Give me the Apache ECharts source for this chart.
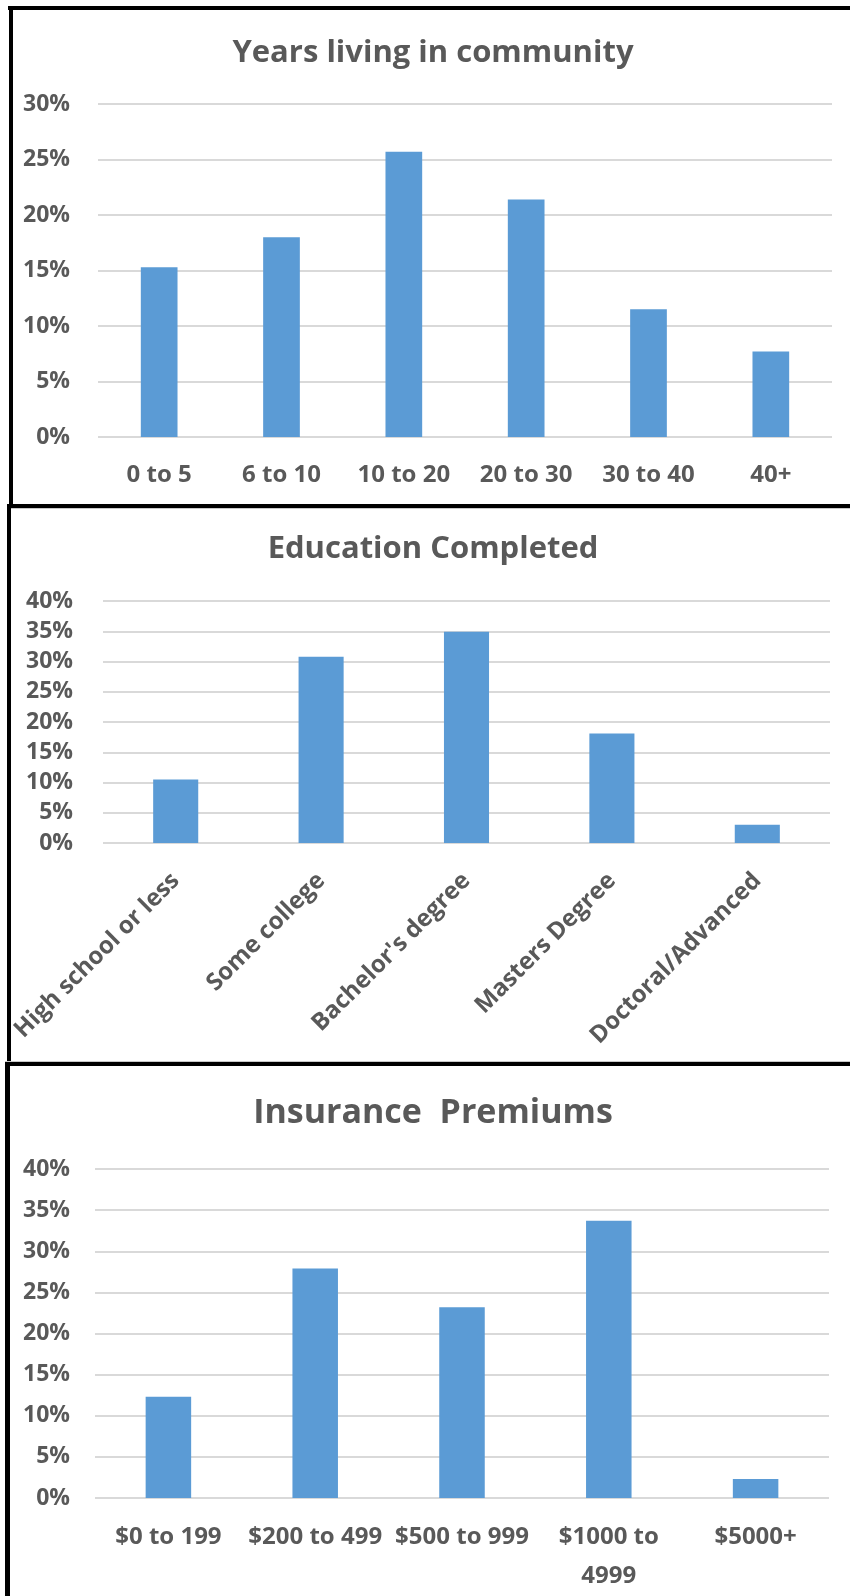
<!DOCTYPE html>
<html>
<head>
<meta charset="utf-8">
<script src="https://cdn.jsdelivr.net/npm/echarts@6/dist/echarts.min.js"></script>
<style>
  html, body { margin: 0; padding: 0; background: #ffffff; }
  #chart { width: 850px; height: 1596px; }
</style>
</head>
<body>
<div id="chart"></div>
<script>
// Survey results, shares of respondents in percent
const yearsCategories = ['0 to 5', '6 to 10', '10 to 20', '20 to 30', '30 to 40', '40+'];
const yearsValues = [15.3, 18.0, 25.7, 21.4, 11.5, 7.7];

const educationCategories = ['High school or less', 'Some college', "Bachelor's degree", 'Masters Degree', 'Doctoral/Advanced'];
const educationValues = [10.5, 30.8, 34.9, 18.1, 3.0];

const premiumCategories = ['$0 to 199', '$200 to 499', '$500 to 999', '$1000 to\n4999', '$5000+'];
const premiumValues = [12.3, 27.9, 23.2, 33.7, 2.3];

const panelTitles = ['Years living in community', 'Education Completed', 'Insurance  Premiums'];
const yearsAxisMax = 30;
const educationAxisMax = 40;
const premiumAxisMax = 40;
const tickStep = 5;

const FONT = '"Open Sans", "DejaVu Sans", sans-serif';
const GREY_TEXT = '#595959';
const GRID_LINE = '#d9d9d9';
const BAR_BLUE = '#5b9bd5';

function valueAxis(gridIndex, max, margin) {
  return {
    type: 'value', gridIndex: gridIndex, min: 0, max: max, interval: tickStep,
    axisLine: { show: false }, axisTick: { show: false },
    splitLine: { show: true, lineStyle: { color: GRID_LINE, width: 2 } },
    axisLabel: {
      formatter: '{value}%', color: GREY_TEXT, fontFamily: FONT,
      fontWeight: 'bold', fontSize: 23, margin: margin
    }
  };
}

function categoryAxis(gridIndex, data, labelOpts) {
  return {
    type: 'category', gridIndex: gridIndex, data: data,
    axisLine: { show: false }, axisTick: { show: false },
    axisLabel: Object.assign({
      color: GREY_TEXT, fontFamily: FONT, fontWeight: 'bold',
      fontSize: 24, interval: 0
    }, labelOpts)
  };
}

function barSeries(index, values, width) {
  return {
    type: 'bar', xAxisIndex: index, yAxisIndex: index, data: values,
    barWidth: width, itemStyle: { color: BAR_BLUE }, silent: true
  };
}

function titleText(text, x, y, size) {
  return {
    type: 'text', x: x, y: y, silent: true,
    style: {
      text: text, fill: GREY_TEXT, align: 'center', verticalAlign: 'middle',
      font: 'bold ' + size + 'px ' + FONT
    }
  };
}

function block(x, y, w, h, color) {
  return { type: 'rect', silent: true, shape: { x: x, y: y, width: w, height: h }, style: { fill: color } };
}

const chart = echarts.init(document.getElementById('chart'), null, { renderer: 'canvas' });

chart.setOption({
  backgroundColor: '#ffffff',
  animation: false,
  grid: [
    { left: 98, right: 18, top: 104, height: 333 },
    { left: 103, right: 20, top: 601, height: 242 },
    { left: 95, right: 21, top: 1169, height: 329 }
  ],
  xAxis: [
    categoryAxis(0, yearsCategories, { margin: 26 }),
    categoryAxis(1, educationCategories, { rotate: 45, margin: 34, fontSize: 24 }),
    categoryAxis(2, premiumCategories, { margin: 20, lineHeight: 39 })
  ],
  yAxis: [
    valueAxis(0, yearsAxisMax, 28),
    valueAxis(1, educationAxisMax, 30),
    valueAxis(2, premiumAxisMax, 25)
  ],
  series: [
    barSeries(0, yearsValues, '30%'),
    barSeries(1, educationValues, '31%'),
    barSeries(2, premiumValues, '31%')
  ],
  graphic: [
    titleText(panelTitles[0], 433, 53, 31),
    titleText(panelTitles[1], 433, 549, 31),
    titleText(panelTitles[2], 433, 1113, 34),
    // panel frames
    block(8, 6, 842, 4, '#000000'),
    block(9, 6, 4, 502, '#000000'),
    block(7, 504, 843, 4, '#000000'),
    block(7, 508, 843, 1, '#c8c8c8'),
    block(7, 504, 4, 562, '#000000'),
    block(5, 1061, 845, 1, '#c8c8c8'),
    block(5, 1062, 845, 4, '#000000'),
    block(5, 1062, 5, 534, '#000000')
  ]
});
</script>
</body>
</html>
